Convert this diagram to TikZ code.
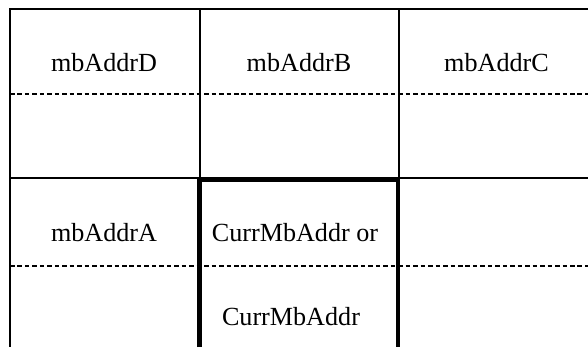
\documentclass[tikz,border=0pt]{standalone}
\usepackage{fontspec}
\setmainfont{Liberation Serif}
\usetikzlibrary{positioning}
\tikzset{
  lbl/.style={anchor=base,inner sep=0pt,font=\fontsize{19.6}{23}\selectfont},
  grid/.style={line width=1.6pt},
  half/.style={line width=1.3pt,dash pattern=on 3.4pt off 2.2pt},
  cur/.style={line width=3.6pt},
}
\begin{document}
\begin{tikzpicture}[x=0.75pt,y=-0.75pt]
  \useasboundingbox (0,0) rectangle (588,347);
  % outer frame and cell borders
  \coordinate (tl) at (10,9);
  \coordinate (tr) at (588,9);
  \coordinate (ml) at (10,178);
  \coordinate (mr) at (588,178);
  \coordinate (bl) at (10,347);
  \draw[grid] (tr) -- (tl) -- (bl);
  \draw[grid] (ml) -- (mr);
  \draw[grid] (200,9) -- (200,178);
  \draw[grid] (399,9) -- (399,347);
  % field boundaries inside each macroblock
  \draw[half] (10,94) -- (588,94);
  \draw[half] (10,266) -- (588,266);
  % current macroblock pair
  \draw[cur] (199.5,347) -- (199.5,180) -- (398,180) -- (398,347);
  \node[lbl] (d) at (104,71.7) {mbAddrD};
  \node[lbl] (b) at (299,71.7) {mbAddrB};
  \node[lbl] (c) at (496.5,71.7) {mbAddrC};
  \node[lbl] (a) at (104,241.7) {mbAddrA};
  \node[lbl] (cur1) at (295,241.7) {CurrMbAddr or};
  \node[lbl] (cur2) at (291,325) {CurrMbAddr};
\end{tikzpicture}
\end{document}
